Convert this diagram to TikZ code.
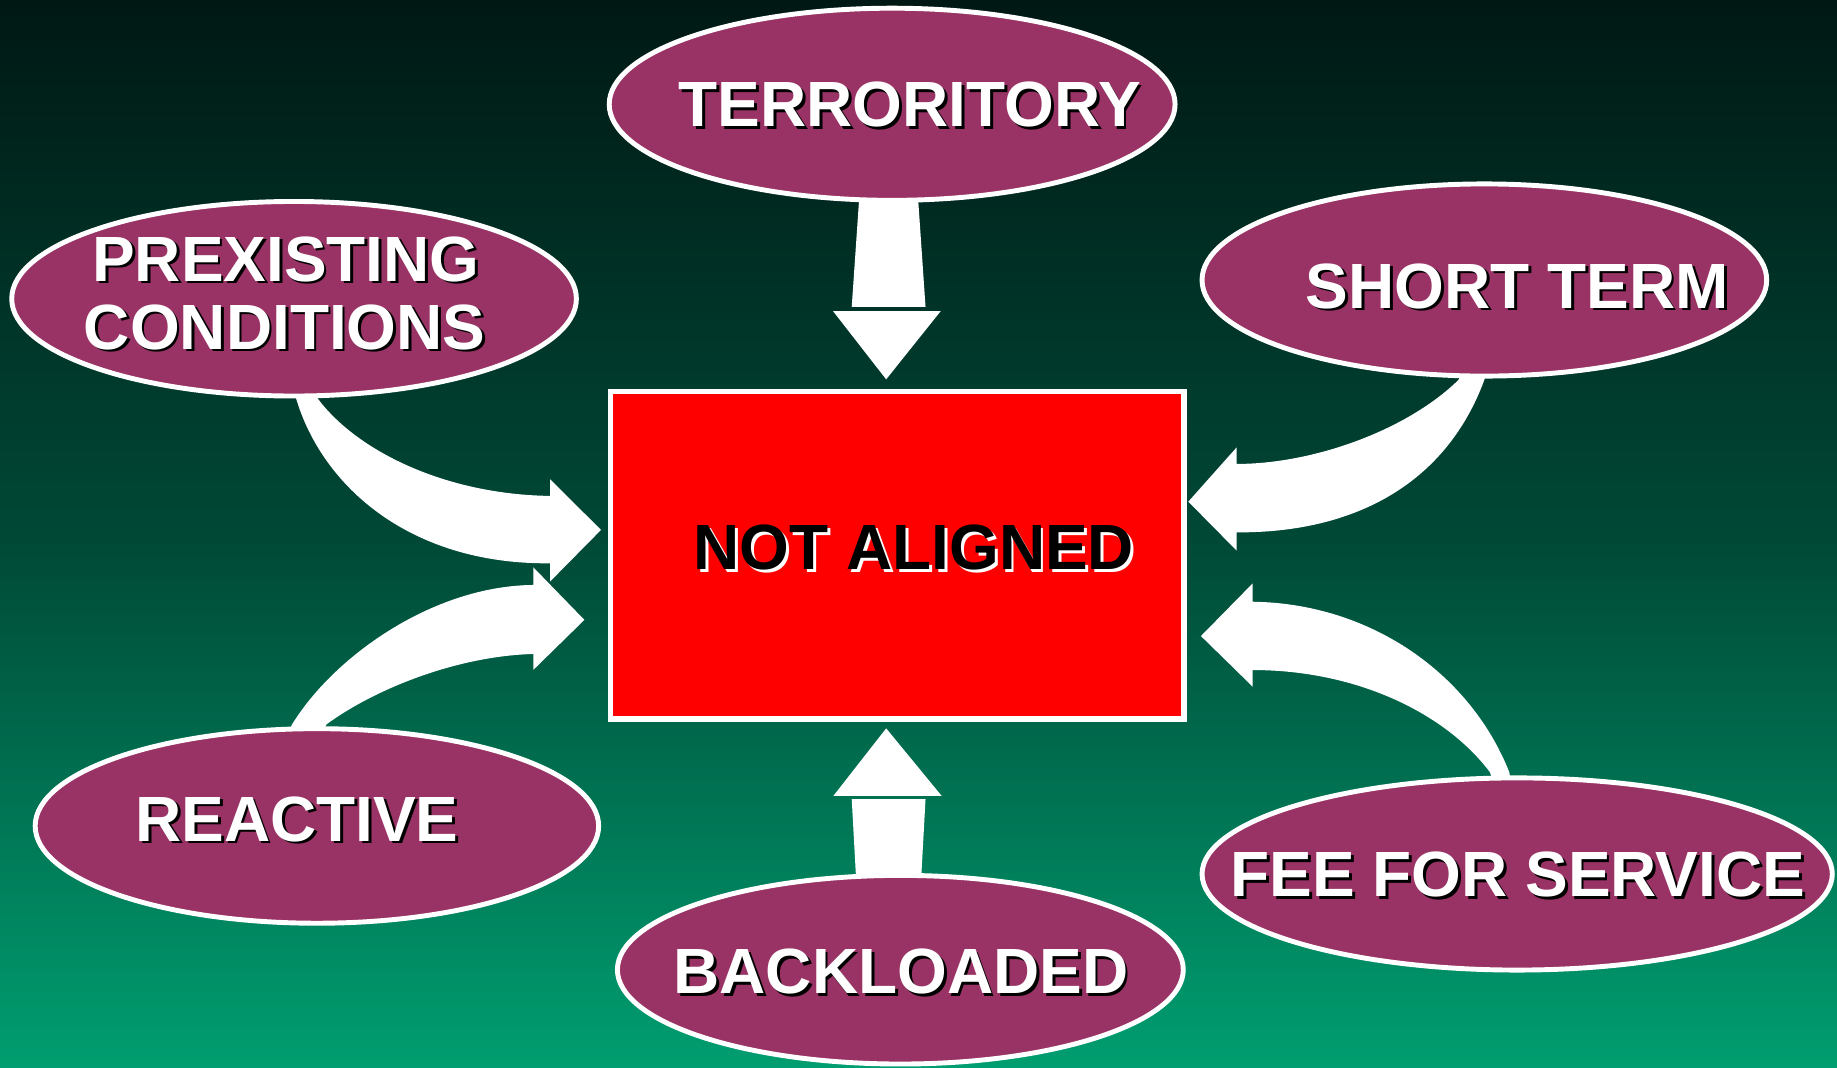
\documentclass[tikz,border=0pt]{standalone}
\usepackage{fontspec}
\setmainfont{Liberation Sans}
\usetikzlibrary{shapes.geometric}
\definecolor{ellfill}{RGB}{153,51,102}
\definecolor{bgtop}{RGB}{0,24,20}
\definecolor{bgmid}{RGB}{0,72,54}
\definecolor{bgbot}{RGB}{0,158,112}
\pgfdeclareverticalshading{bgshade}{100bp}{color(0bp)=(bgbot); color(25bp)=(bgbot); color(50bp)=(bgmid); color(75bp)=(bgtop); color(100bp)=(bgtop)}
\newcommand{\shlabel}[5]{%
  \node[lbl,text=#5] at ([shift={(0.8pt,-0.8pt)}]#2) {#3};
  \node[lbl,text=#4] (#1) at (#2) {#3};}
\begin{document}
\begin{tikzpicture}[x=0.011716cm,y=-0.011716cm,
  ell/.style={ellipse, draw=white, line width=1.4pt, fill=ellfill, inner sep=0pt},
  lbl/.style={font=\fontsize{18.2}{20}\selectfont\bfseries, anchor=base, inner sep=0pt},
  blockarrow/.style={fill=white}]
\useasboundingbox (0,0) rectangle (1568,911.6);
\shade[shading=bgshade] (0,0) rectangle (1568,911.6);

% block arrows (drawn below the ellipses)
% top straight arrow
\fill[blockarrow] (734,160) -- (783,160) -- (790,262) -- (727,262) -- cycle;
\fill[blockarrow] (711,265.5) -- (803,265.5) -- (756.4,323.8) -- cycle;
% bottom straight arrow
\fill[blockarrow] (756.4,621.7) -- (803.8,679.4) -- (711.3,679.4) -- cycle;
\fill[blockarrow] (727,682) -- (790,682) -- (786,755) -- (731,755) -- cycle;
% prexisting -> box
\fill[blockarrow] (248,330) -- (252.7,340) .. controls (275,415) and (350,482) .. (469.5,480.8)
  -- (469.5,496.4) -- (513,452.3) -- (469.5,409.1) -- (469.5,423.3)
  .. controls (380,422) and (305,385) .. (271.7,340.8) -- (265,330) -- cycle;
% reactive -> box
\fill[blockarrow] (245,630) -- (249,618.8) .. controls (285,560) and (370,500) .. (455.2,499.3)
  -- (455.2,484.2) -- (498.8,529.1) -- (455.2,571.8) -- (455.2,558.2)
  .. controls (390,560) and (320,588) .. (278.8,618.2) -- (272,630) -- cycle;
% short term -> box
\fill[blockarrow] (1250,314) -- (1244.8,324.4) .. controls (1200,368) and (1120,396) .. (1055.6,396)
  -- (1055.6,381.8) -- (1014.3,428.2) -- (1055.6,470) -- (1055.6,454.4)
  .. controls (1160,455) and (1235,410) .. (1266.7,325) -- (1270,314) -- cycle;
% fee for service -> box
\fill[blockarrow] (1069.2,513.6) .. controls (1170,515) and (1255,575) .. (1288.3,659.2)
  -- (1290,670) -- (1275,670) -- (1271.8,659.2)
  .. controls (1235,610) and (1160,572) .. (1069.2,571.9)
  -- (1069.2,586.1) -- (1025.1,542.9) -- (1069.2,498) -- cycle;

% ellipses
\node[ell, minimum width=5.66cm, minimum height=1.922cm] (terr) at (761.5,89) {};
\node[ell, minimum width=5.648cm, minimum height=1.946cm] (prex) at (251,255) {};
\node[ell, minimum width=5.648cm, minimum height=1.922cm] (short) at (1267,239) {};
\node[ell, minimum width=5.636cm, minimum height=1.946cm] (react) at (270.5,705) {};
\node[ell, minimum width=5.66cm, minimum height=1.887cm] (back) at (768.5,827.7) {};
\node[ell, minimum width=6.304cm, minimum height=1.922cm] (fee) at (1295,746) {};

% central box
\node[draw=white, line width=1.5pt, fill=red, minimum width=5.735cm, minimum height=3.274cm, inner sep=0pt] (na) at (766,474) {};

% labels
\shlabel{terrt}{776.5,108}{TERRORITORY}{white}{black}
\shlabel{prext1}{244,240}{PREXISTING}{white}{black}
\shlabel{prext2}{243,298}{CONDITIONS}{white}{black}
\shlabel{shortt}{1295,263}{SHORT TERM}{white}{black}
\shlabel{reactt}{253.5,718}{REACTIVE}{white}{black}
\shlabel{backt}{769,848}{BACKLOADED}{white}{black}
\shlabel{feet}{1295.5,765}{FEE FOR SERVICE}{white}{black}
\shlabel{nat}{780,486}{NOT ALIGNED}{black}{white}
\end{tikzpicture}
\end{document}
